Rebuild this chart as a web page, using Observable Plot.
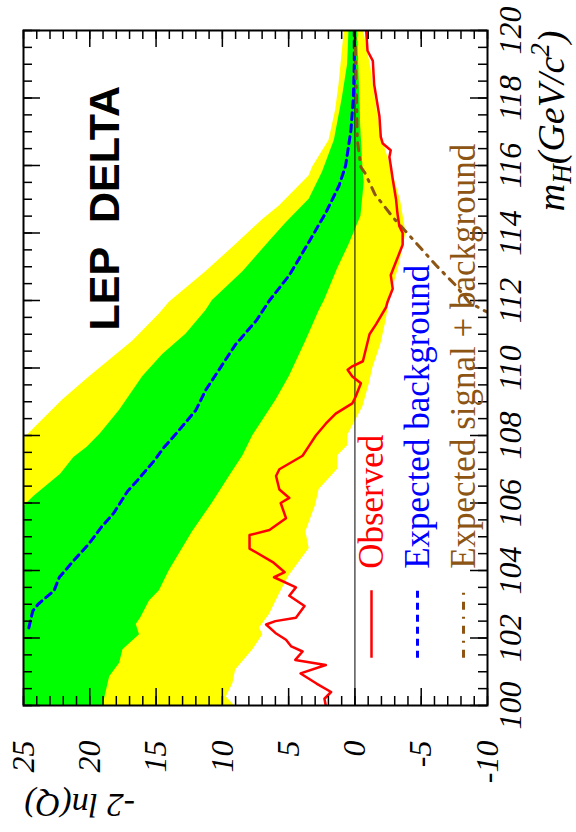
<!DOCTYPE html>
<html>
<head>
<meta charset="utf-8">
<script src="https://cdn.jsdelivr.net/npm/d3@7"></script>
<script src="https://cdn.jsdelivr.net/npm/@observablehq/plot@0.6"></script>
<style>
  html, body { margin: 0; padding: 0; background: #fff; }
  #chart svg { display: block; }
</style>
</head>
<body>
<div id="chart"></div>
<script>
// -2 ln(Q) versus Higgs mass m_H (GeV/c^2); each series is a list of [mH, -2lnQ]
const observed = [
  [100.0, 2.2], [100.2, 2.3], [100.4, 1.8], [100.65, 2.9], [100.95, 4.1], [101.2, 2.2],
  [101.35, 4.5], [101.6, 3.95], [101.75, 4.8], [101.95, 5.2], [102.15, 6.0], [102.4, 6.7],
  [102.5, 6.0], [102.6, 4.45], [102.95, 3.8], [103.25, 4.95], [103.5, 4.45], [103.8, 6.1],
  [103.95, 5.3], [104.25, 6.2], [104.65, 7.95], [105.05, 7.95], [105.2, 6.45], [105.55, 5.2],
  [106.0, 5.6], [106.15, 4.95], [106.4, 5.7], [106.8, 5.95], [107.0, 5.7], [107.4, 3.95],
  [107.7, 3.45], [108.0, 2.95], [108.35, 2.2], [108.65, 1.45], [108.95, 0.2], [109.15, -0.05],
  [109.55, -0.45], [109.75, 0.2], [109.95, 0.55], [110.05, 0.2], [110.2, -0.6], [110.6, -0.85],
  [111.0, -1.1], [111.3, -1.6], [111.8, -2.35], [111.95, -2.45], [112.35, -2.85], [112.75, -2.7],
  [113.05, -3.0], [113.65, -3.6], [114.0, -3.6], [114.2, -3.35], [114.6, -3.2], [115.0, -3.1],
  [115.6, -2.85], [116.0, -2.7], [116.25, -2.6], [116.45, -2.7], [116.65, -2.1], [116.85, -1.95],
  [117.45, -1.85], [118.4, -1.45], [119.1, -1.35], [119.4, -0.95], [120.0, -0.85]
];

const expectedBkg = [
  [102.3, 24.6], [102.8, 24.3], [103.0, 23.9], [103.4, 22.7], [103.8, 22.3], [104.3, 21.2],
  [104.8, 20.05], [105.3, 19.1], [105.7, 18.2], [106.35, 17.15], [106.65, 16.45], [107.25, 15.15],
  [107.65, 14.4], [108.05, 13.5], [108.75, 12.0], [109.35, 11.25], [110.1, 10.0], [110.7, 9.0],
  [111.4, 7.45], [112.0, 6.45], [112.75, 4.95], [113.75, 3.45], [114.6, 2.2], [115.4, 1.2],
  [116.0, 0.7], [117.05, 0.3], [118.0, 0.12], [119.0, 0.05], [120.0, 0.05]
];

const expectedSigBkg = [
  [111.6, -10.3], [111.7, -9.75], [111.95, -8.6], [112.45, -7.6], [113.05, -6.1], [113.8, -4.4],
  [114.45, -2.9], [115.15, -1.5], [115.75, -0.8], [115.95, -0.45], [116.75, -0.18],
  [117.95, -0.12], [120.0, 0.0]
];

// background-only bands: 2 sigma (yellow) and 1 sigma (green) edges
const band2Upper = [
  [100.0, 25], [107.9, 25], [109.05, 22.05], [109.75, 20.0], [110.8, 16.75], [111.6, 14.75],
  [111.95, 14.0], [112.85, 11.25], [113.65, 9.0], [114.4, 6.95], [114.8, 5.7], [115.7, 3.45],
  [115.95, 3.2], [116.75, 1.95], [117.65, 1.45], [118.4, 1.2], [119.4, 0.95], [120.0, 0.8]
];
const band2Lower = [
  [100.0, 9.1], [100.25, 9.7], [100.65, 9.2], [101.05, 9.0], [101.65, 7.7], [102.1, 6.95],
  [102.3, 7.2], [102.7, 6.45], [103.3, 5.7], [103.85, 4.95], [104.65, 3.45], [105.15, 3.7],
  [105.95, 2.95], [106.4, 2.7], [107.0, 1.3], [107.4, 1.3], [107.7, 0.55], [108.0, 0.55],
  [108.85, -0.6], [109.55, -1.1], [110.0, -1.35], [110.7, -1.95], [111.4, -2.35], [112.0, -2.6],
  [113.05, -3.35], [114.0, -3.85], [114.95, -3.45], [115.95, -2.7], [116.95, -1.95],
  [117.95, -1.55], [118.9, -1.2], [120.0, -0.65]
];
const band1Upper = [
  [100.0, 25], [105.9, 25], [106.2, 24.2], [106.85, 22.2], [107.35, 21.2], [107.65, 20.2],
  [108.05, 19.2], [108.75, 17.75], [109.75, 16.0], [110.4, 14.5], [111.0, 12.75], [111.7, 11.25],
  [112.0, 10.75], [112.85, 8.45], [113.75, 6.45], [114.3, 5.2], [115.0, 3.45], [115.8, 2.45],
  [116.75, 1.55], [118.0, 0.95], [119.0, 0.55], [120.0, 0.45]
];
const band1Lower = [
  [100.0, 19.0], [100.85, 18.5], [101.25, 17.75], [101.65, 17.5], [102.1, 16.25], [102.4, 16.5],
  [102.6, 16.15], [103.1, 15.5], [103.4, 14.75], [104.0, 14.0], [105.15, 12.25], [106.0, 10.75],
  [106.8, 9.45], [107.4, 8.45], [108.0, 7.7], [109.05, 5.95], [109.75, 4.95], [110.8, 3.7],
  [111.7, 2.7], [112.0, 2.3], [112.95, 1.3], [113.65, 0.45], [114.5, -0.45], [115.5, -0.7],
  [115.95, -0.6], [117.05, -0.45], [118.0, -0.37], [120.0, -0.2]
];

// axis ticks
const qTicksMajor = [25, 20, 15, 10, 5, 0, -5, -10];
const qTicksMinor = d3.range(-10, 26, 1);
const mTicksMajor = [100, 102, 104, 106, 108, 110, 112, 114, 116, 118, 120];
const mTicksMinor = d3.range(100, 120.01, 0.5);

// legend
const legendLabels = ["Observed", "Expected background", "Expected signal + background"];
const legendColors = ["#ff0000", "#0000ff", "#8c5514"];
const legendDash = [null, "7,5", "8,7,2,7"];
const legendQ = [-1.25, -4.72, -8.19];

const W = 576, H = 832;
const mT = 30, mR = 89, mB = 127, mL = 23;
const frameW = W - mL - mR, frameH = H - mT - mB;
const serif = "Liberation Serif, 'Times New Roman', serif";
const sans = "Liberation Sans, Arial, Helvetica, sans-serif";

const rows = a => a.map(([m, q]) => ({m, q}));
const fillRight = (edge, fill) =>
  Plot.areaX(rows(edge), {y: "m", x1: "q", x2: () => -10, fill, clip: true});

const tickMarks = [
  Plot.tickX(qTicksMinor, {x: d => d, insetTop: frameH - 9, stroke: "black", strokeWidth: 1.5}),
  Plot.tickX(qTicksMinor, {x: d => d, insetBottom: frameH - 9, stroke: "black", strokeWidth: 1.5}),
  Plot.tickX(qTicksMajor, {x: d => d, insetTop: frameH - 17, stroke: "black", strokeWidth: 1.5}),
  Plot.tickX(qTicksMajor, {x: d => d, insetBottom: frameH - 17, stroke: "black", strokeWidth: 1.5}),
  Plot.tickY(mTicksMinor, {y: d => d, insetLeft: frameW - 9, stroke: "black", strokeWidth: 1.5}),
  Plot.tickY(mTicksMinor, {y: d => d, insetRight: frameW - 9, stroke: "black", strokeWidth: 1.5}),
  Plot.tickY(mTicksMajor, {y: d => d, insetLeft: frameW - 17, stroke: "black", strokeWidth: 1.5}),
  Plot.tickY(mTicksMajor, {y: d => d, insetRight: frameW - 17, stroke: "black", strokeWidth: 1.5})
];

const legendMarks = legendLabels.flatMap((label, i) => [
  Plot.ruleX([legendQ[i]], {
    x: d => d, y1: () => 101.4, y2: () => 103.4,
    stroke: legendColors[i], strokeWidth: i === 0 ? 2.5 : 3,
    strokeDasharray: legendDash[i]
  }),
  Plot.text([label], {
    x: () => legendQ[i], y: () => 104.05, text: d => d,
    rotate: -90, textAnchor: "start", lineAnchor: "middle",
    fill: legendColors[i], fontSize: 35, fontFamily: serif
  })
]);

const chart = Plot.plot({
  width: W, height: H,
  marginTop: mT, marginRight: mR, marginBottom: mB, marginLeft: mL,
  style: {background: "white", overflow: "visible"},
  x: {domain: [25, -10], axis: null},
  y: {domain: [100, 120], axis: null},
  marks: [
    // bands painted outward-in: 2 sigma, 1 sigma, back to 2 sigma, then clear beyond
    fillRight(band2Upper, "#ffff00"),
    fillRight(band1Upper, "#00ff00"),
    fillRight(band1Lower, "#ffff00"),
    fillRight(band2Lower, "white"),
    Plot.ruleX([0], {x: d => d, stroke: "black", strokeWidth: 1}),
    Plot.line(rows(expectedBkg), {x: "q", y: "m", stroke: "#0000ff", strokeWidth: 3, strokeDasharray: "7,5", clip: true}),
    Plot.line(rows(expectedSigBkg), {x: "q", y: "m", stroke: "#8c5514", strokeWidth: 3, strokeDasharray: "8,7,2,7", clip: true}),
    Plot.line(rows(observed), {x: "q", y: "m", stroke: "#ff0000", strokeWidth: 2.5, clip: true}),
    ...tickMarks,
    Plot.frame({stroke: "black", strokeWidth: 2}),
    // tick labels
    Plot.text(qTicksMajor, {
      x: d => d, frameAnchor: "bottom", dy: 35, text: d => String(d),
      rotate: -90, textAnchor: "end", lineAnchor: "middle",
      fontSize: 32, fontStyle: "italic", fontFamily: serif, fill: "black"
    }),
    Plot.text(mTicksMajor, {
      y: d => d, frameAnchor: "right", dx: 11, text: d => String(d),
      rotate: -90, textAnchor: "middle", lineAnchor: "top",
      fontSize: 32, fontStyle: "italic", fontFamily: serif, fill: "black"
    }),
    // axis titles
    Plot.text(["-2 ln(Q)"], {
      frameAnchor: "bottom-left", dx: 1, dy: 88, text: d => d,
      rotate: 180, textAnchor: "end", lineAnchor: "bottom",
      fontSize: 34, fontStyle: "italic", fontFamily: serif, fill: "black"
    }),
    Plot.text(["mH(GeV/c2)"], {
      frameAnchor: "top-right", dx: 76, dy: 0, text: d => d,
      rotate: -90, textAnchor: "end", lineAnchor: "bottom",
      fontSize: 38, fontStyle: "italic", fontFamily: serif, fill: "black"
    }),
    Plot.text(["LEP\u00a0\u00a0DELTA"], {
      frameAnchor: "bottom-left", dx: 95, dy: -375, text: d => d,
      rotate: -90, textAnchor: "start", lineAnchor: "bottom",
      fontSize: 43, fontWeight: "bold", fontFamily: sans, fill: "black"
    }),
    ...legendMarks
  ]
});

// italic tick labels and titles
d3.select(chart).selectAll("[font-style='italic']").style("font-style", "italic");

// subscript H and superscript 2 in the mass axis title
d3.select(chart).selectAll("text").filter(function () {
  return this.textContent === "mH(GeV/c2)";
}).each(function () {
  const t = d3.select(this).text(null);
  t.append("tspan").text("m");
  t.append("tspan").attr("font-size", 27).attr("dy", 7).text("H");
  t.append("tspan").attr("font-size", 38).attr("dy", -7).text("(GeV/c");
  t.append("tspan").attr("font-size", 27).attr("dy", -15).text("2");
  t.append("tspan").attr("font-size", 38).attr("dy", 15).text(")");
});

document.getElementById("chart").append(chart);
</script>
</body>
</html>
